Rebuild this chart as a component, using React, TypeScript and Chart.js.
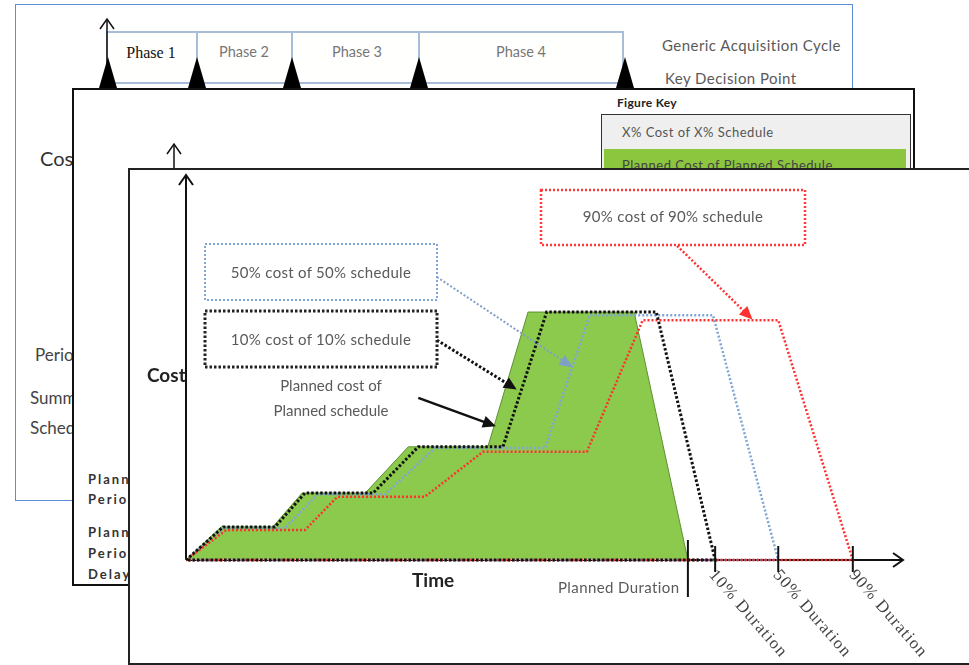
import React, { useEffect, useRef } from "react";
import { Chart, registerables } from "chart.js";

Chart.register(...registerables);

// ---- Data (time on x, cost on y, both in chart units; origin = 0,0) ----
const plannedTime = [0, 4.9, 12.1, 16.2, 25.0, 31.0, 42.1, 47.7, 62.5, 70.0];
const plannedCost = [0, 8.6, 8.6, 17.4, 17.4, 29.4, 29.4, 64.4, 64.4, 0];

const p10Time = [0, 5.2, 12.4, 16.6, 26.1, 32.4, 44.2, 50.3, 65.6, 73.8, 0];
const p10Cost = [0, 8.6, 8.6, 17.4, 17.4, 29.4, 29.4, 64.4, 64.4, 0, 0];

const p50Time = [0, 5.3, 13.8, 18.4, 27.8, 34.7, 50.1, 56.3, 73.5, 82.6, 0];
const p50Cost = [0, 8.3, 8.3, 17.1, 17.1, 29.1, 29.1, 63.6, 63.6, 0, 0];

const p90Time = [0, 5.6, 16.6, 21.1, 33.3, 41.4, 55.9, 63.7, 82.6, 93.0, 0];
const p90Cost = [0, 7.8, 7.8, 16.4, 16.4, 28.1, 28.1, 62.3, 62.3, 0, 0];

const durationTicks = [70.0, 73.8, 82.6, 93.0];
const durationLabels = ["Planned Duration", "10% Duration", "50% Duration", "90% Duration"];

const phaseLabels = ["Phase 1", "Phase 2", "Phase 3", "Phase 4"];
const boxLabels = ["50% cost of 50% schedule", "10% cost of 10% schedule", "90% cost of 90% schedule"];

// annotation pointers in chart units
const pointers = [
  { from: [35.0, 73.5], to: [53.0, 51.2], color: "#7f9fc6", dash: [2, 2], width: 2 },
  { from: [35.0, 57.1], to: [45.6, 44.9], color: "#111111", dash: [2.5, 2], width: 3 },
  { from: [32.4, 42.1], to: [42.7, 35.1], color: "#111111", dash: [], width: 2.5 },
  { from: [68.5, 81.6], to: [78.5, 63.4], color: "#ff3030", dash: [2, 2], width: 2.5 },
];

const zip = (xs: number[], ys: number[]) => xs.map((x, i) => ({ x, y: ys[i] }));

function arrowHead(ctx: CanvasRenderingContext2D, x1: number, y1: number, x2: number, y2: number, len: number, half: number, color: string) {
  const a = Math.atan2(y2 - y1, x2 - x1);
  ctx.save();
  ctx.fillStyle = color;
  ctx.beginPath();
  ctx.moveTo(x2, y2);
  ctx.lineTo(x2 - len * Math.cos(a) + half * Math.sin(a), y2 - len * Math.sin(a) - half * Math.cos(a));
  ctx.lineTo(x2 - len * Math.cos(a) - half * Math.sin(a), y2 - len * Math.sin(a) + half * Math.cos(a));
  ctx.closePath();
  ctx.fill();
  ctx.restore();
}

function chevron(ctx: CanvasRenderingContext2D, x: number, y: number, dir: "up" | "right") {
  ctx.beginPath();
  if (dir === "up") {
    ctx.moveTo(x - 7, y + 10);
    ctx.lineTo(x, y);
    ctx.lineTo(x + 7, y + 10);
  } else {
    ctx.moveTo(x - 10, y - 7);
    ctx.lineTo(x, y);
    ctx.lineTo(x - 10, y + 7);
  }
  ctx.stroke();
}

const overlay = {
  id: "overlay",
  beforeDatasetsDraw(chart: any) {
    const ctx: CanvasRenderingContext2D = chart.ctx;
    const X = (v: number) => chart.scales.x.getPixelForValue(v);
    const Y = (v: number) => chart.scales.y.getPixelForValue(v);
    ctx.save();
    ctx.strokeStyle = "#111";
    ctx.lineWidth = 2;
    ctx.beginPath();
    ctx.moveTo(X(0), Y(0));
    ctx.lineTo(X(0), Y(100));
    ctx.moveTo(X(0), Y(0));
    ctx.lineTo(X(100), Y(0));
    ctx.stroke();
    chevron(ctx, X(0), Y(100), "up");
    chevron(ctx, X(100), Y(0), "right");
    ctx.restore();
  },
  afterDatasetsDraw(chart: any) {
    const ctx: CanvasRenderingContext2D = chart.ctx;
    const X = (v: number) => chart.scales.x.getPixelForValue(v);
    const Y = (v: number) => chart.scales.y.getPixelForValue(v);
    ctx.save();
    // duration ticks
    ctx.strokeStyle = "#111";
    ctx.lineWidth = 2;
    durationTicks.forEach((t, i) => {
      ctx.beginPath();
      ctx.moveTo(X(t), Y(0) - (i === 0 ? 20 : 14));
      ctx.lineTo(X(t), Y(0) + (i === 0 ? 37 : 12));
      ctx.stroke();
    });
    // pointers
    pointers.forEach((p) => {
      const x1 = X(p.from[0]), y1 = Y(p.from[1]), x2 = X(p.to[0]), y2 = Y(p.to[1]);
      ctx.strokeStyle = p.color;
      ctx.lineWidth = p.width;
      ctx.setLineDash(p.dash);
      ctx.beginPath();
      ctx.moveTo(x1, y1);
      ctx.lineTo(x2, y2);
      ctx.stroke();
      ctx.setLineDash([]);
      arrowHead(ctx, x1, y1, x2 + (x2 - x1) * 0.05, y2 + (y2 - y1) * 0.05, 13, 6, p.color);
    });
    // dotted callout boxes
    const boxes = [
      { x: 205, y: 244, w: 232, h: 56, c: "#7fa6d6", d: [2, 2], lw: 2 },
      { x: 205, y: 311, w: 232, h: 56, c: "#222", d: [2.5, 2], lw: 3 },
      { x: 541, y: 190, w: 264, h: 55, c: "#ff3a3a", d: [2, 2], lw: 2.5 },
    ];
    boxes.forEach((b) => {
      ctx.strokeStyle = b.c;
      ctx.lineWidth = b.lw;
      ctx.setLineDash(b.d);
      ctx.strokeRect(b.x, b.y, b.w, b.h);
    });
    ctx.restore();
  },
};

const grey = "#5a5a5a";
const sans = "Lato, 'Open Sans', sans-serif";

export default function App() {
  const ref = useRef<HTMLCanvasElement>(null);
  useEffect(() => {
    if (!ref.current) return;
    const chart = new Chart(ref.current, {
      type: "scatter",
      data: {
        datasets: [
          {
            label: "10% cost of 10% schedule",
            data: zip(p10Time, p10Cost),
            showLine: true,
            borderColor: "#111",
            borderWidth: 3,
            borderDash: [2.5, 2],
            pointRadius: 0,
            fill: false,
            clip: false,
            order: 0,
          } as any,
          {
            label: "90% cost of 90% schedule",
            data: zip(p90Time, p90Cost),
            showLine: true,
            borderColor: "#ff3030",
            borderWidth: 2.5,
            borderDash: [2, 2],
            pointRadius: 0,
            fill: false,
            clip: false,
            order: 1,
          } as any,
          {
            label: "50% cost of 50% schedule",
            data: zip(p50Time, p50Cost),
            showLine: true,
            borderColor: "#7fa6d6",
            borderWidth: 2.5,
            borderDash: [2, 2],
            pointRadius: 0,
            fill: false,
            clip: false,
            order: 2,
          } as any,
          {
            label: "Planned cost of Planned schedule",
            data: zip(plannedTime, plannedCost),
            showLine: true,
            borderColor: "#5f8f33",
            borderWidth: 1,
            backgroundColor: "#8cca4e",
            pointRadius: 0,
            fill: "origin",
            clip: false,
            order: 3,
          } as any,
        ],
      },
      options: {
        responsive: false,
        animation: false,
        layout: { padding: { left: 186, right: 66, top: 175, bottom: 105 } },
        scales: {
          x: { type: "linear", min: 0, max: 100, display: false },
          y: { type: "linear", min: 0, max: 100, display: false },
        },
        elements: { line: { tension: 0 }, point: { radius: 0 } },
        plugins: { legend: { display: false }, tooltip: { enabled: false } },
      },
      plugins: [overlay],
    });
    return () => chart.destroy();
  }, []);

  const abs = (left: number, top: number, extra: React.CSSProperties = {}): React.CSSProperties => ({
    position: "absolute",
    left,
    top,
    whiteSpace: "nowrap",
    lineHeight: 1,
    ...extra,
  });

  const phaseCenters = [151, 244, 357, 521];
  const kdp = [108, 197, 292, 419, 625];

  return (
    <div style={{ position: "fixed", left: 0, top: 0, width: 969, height: 665, overflow: "hidden", background: "#fff", fontFamily: sans }}>
      {/* back slide */}
      <div style={{ position: "absolute", left: 15, top: 4, width: 838, height: 497, border: "1.5px solid #5b8ed6", boxSizing: "border-box" }} />
      <svg style={{ position: "absolute", left: 0, top: 0 }} width={969} height={665}>
        <rect x={107} y={32} width={516} height={51} fill="#fffffe" stroke="#a9bddb" strokeWidth={2} />
        {[197, 292, 419].map((x) => (
          <line key={x} x1={x} y1={32} x2={x} y2={83} stroke="#a9bddb" strokeWidth={2} />
        ))}
        <line x1={107} y1={88} x2={107} y2={19} stroke="#111" strokeWidth={1.5} />
        <polyline points="100,29 107,19 114,29" fill="none" stroke="#111" strokeWidth={1.5} />
        {kdp.map((x) => (
          <polygon key={x} points={`${x - 9},88 ${x},57 ${x + 9},88`} fill="#000" />
        ))}
      </svg>
      {phaseLabels.map((p, i) => (
        <div
          key={p}
          style={abs(phaseCenters[i], 45, {
            transform: "translateX(-50%)",
            fontSize: i === 0 ? 16 : 14.5,
            fontFamily: i === 0 ? "'Liberation Serif', serif" : sans,
            color: i === 0 ? "#111" : "#777",
          })}
        >
          {p}
        </div>
      ))}
      <div style={abs(662, 38, { fontSize: 15, color: grey, letterSpacing: 0.45 })}>Generic Acquisition Cycle</div>
      <div style={abs(665, 71, { fontSize: 15, color: grey, letterSpacing: 0.45 })}>Key Decision Point</div>
      <div style={abs(40, 148, { fontSize: 20, color: "#333" })}>Cost</div>
      <div style={abs(35, 346, { fontSize: 17, color: "#444" })}>Period</div>
      <div style={abs(30, 389, { fontSize: 17, color: "#444" })}>Summary</div>
      <div style={abs(30, 419, { fontSize: 17, color: "#444" })}>Schedule</div>

      {/* middle slide */}
      <div style={{ position: "absolute", left: 72, top: 88, width: 843, height: 498, border: "2px solid #111", boxSizing: "border-box", background: "#fff" }} />
      <svg style={{ position: "absolute", left: 0, top: 0 }} width={969} height={665}>
        <line x1={174} y1={168} x2={174} y2={144} stroke="#111" strokeWidth={1.5} />
        <polyline points="167,154 174,144 181,154" fill="none" stroke="#111" strokeWidth={1.5} />
      </svg>
      <div style={abs(617, 97, { fontSize: 12, fontWeight: 700, color: "#222", letterSpacing: 0.3 })}>Figure Key</div>
      <div style={{ position: "absolute", left: 601, top: 114, width: 310, height: 80, border: "1.5px solid #333", background: "#efefef", boxSizing: "border-box" }} />
      <div style={abs(622, 126, { fontSize: 13, color: "#555", letterSpacing: 0.5 })}>X% Cost of X% Schedule</div>
      <div style={{ position: "absolute", left: 604, top: 149, width: 302, height: 40, background: "#8cc63f" }} />
      <div style={abs(622, 159, { fontSize: 13, color: "#444", letterSpacing: 0.5 })}>Planned Cost of Planned Schedule</div>
      {[
        ["Planned", 473],
        ["Period", 493],
        ["Planned", 526],
        ["Period", 547],
        ["Delay", 568],
      ].map(([t, y], i) => (
        <div key={i} style={abs(88, y as number, { fontSize: 13, fontWeight: 700, color: "#333", letterSpacing: 2 })}>
          {t}
        </div>
      ))}

      {/* front slide */}
      <div style={{ position: "absolute", left: 128, top: 168, width: 900, height: 497, border: "2px solid #222", boxSizing: "border-box", background: "#fff" }} />
      <canvas ref={ref} width={969} height={665} style={{ position: "absolute", left: 0, top: 0, width: 969, height: 665 }} />

      <div style={abs(147, 365, { fontSize: 19, fontWeight: 700, color: "#222" })}>Cost</div>
      <div style={abs(412, 570, { fontSize: 19, fontWeight: 700, color: "#222" })}>Time</div>
      <div style={abs(321, 265, { fontSize: 15, color: grey, letterSpacing: 0.3, transform: "translateX(-50%)" })}>{boxLabels[0]}</div>
      <div style={abs(321, 332, { fontSize: 15, color: grey, letterSpacing: 0.3, transform: "translateX(-50%)" })}>{boxLabels[1]}</div>
      <div style={abs(673, 209, { fontSize: 15, color: grey, letterSpacing: 0.3, transform: "translateX(-50%)" })}>{boxLabels[2]}</div>
      <div style={abs(331, 373, { fontSize: 15, color: grey, transform: "translateX(-50%)", textAlign: "center", lineHeight: "25px" })}>
        Planned cost of
        <br />
        Planned schedule
      </div>
      <div style={abs(558, 580, { fontSize: 15, color: grey, letterSpacing: 0.4 })}>{durationLabels[0]}</div>
      {[1, 2, 3].map((i) => (
        <div
          key={i}
          style={abs([0, 719, 783, 859][i], 566, {
            fontSize: 17,
            fontFamily: "'Liberation Serif', serif",
            color: "#444",
            letterSpacing: 1.2,
            transform: "rotate(49deg)",
            transformOrigin: "0 0",
          })}
        >
          {durationLabels[i]}
        </div>
      ))}
    </div>
  );
}
